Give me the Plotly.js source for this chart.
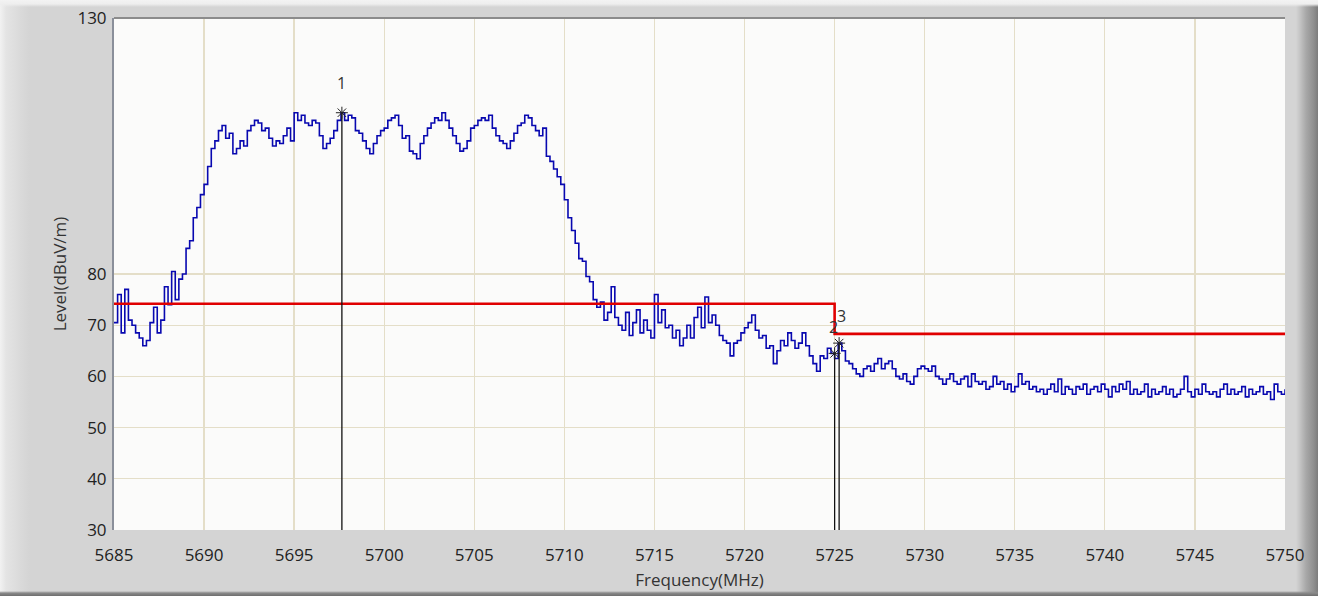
<!DOCTYPE html>
<html>
<head>
<meta charset="utf-8">
<script src="https://cdn.plot.ly/plotly-3.0.1.min.js"></script>
<style>
  html, body { margin: 0; padding: 0; background: #d4d4d4; }
  #chart {
    width: 1318px; height: 596px;
    background:
      linear-gradient(to bottom, #f3f3f3 0px, #eeeeee 4px, rgba(212,212,212,0) 7px),
      linear-gradient(to top, #6e6e6e 0px, #8a8a8a 3px, rgba(212,212,212,0) 5px),
      linear-gradient(to right, #f2f2f2 0px, #e4e4e4 6px, #dadada 20px, #d4d4d4 30px, #d4d4d4 1296px, #c4c4c4 1300px, #a8a8a8 1306px, #8e8e8e 1314px, #7c7c7c 1318px);
  }
</style>
</head>
<body>
<div id="chart"></div>
<script>
// Sweep: 5685 MHz to 5750 MHz, one reading every 0.2 MHz
const freqStart = 5685;
const freqStep = 0.2;
const levels = [
  70.5, 76.0, 68.5, 77.0, 71.0,
  70.0, 68.5, 67.5, 66.0, 67.0,
  70.5, 73.5, 68.5, 71.0, 77.5,
  74.0, 80.5, 75.0, 79.0, 80.0,
  85.0, 86.5, 91.0, 93.0, 95.5,
  97.5, 101.0, 104.5, 106.0, 108.0,
  109.0, 106.5, 107.5, 103.5, 104.5,
  106.0, 105.0, 108.0, 109.0, 110.0,
  109.5, 108.0, 108.5, 106.5, 105.0,
  106.0, 105.5, 107.0, 108.5, 106.0,
  111.5, 110.0, 111.0, 109.5, 109.0,
  110.0, 109.5, 107.0, 104.5, 105.5,
  106.5, 108.0, 110.0, 111.5, 110.0,
  111.0, 110.5, 108.0, 107.5, 106.0,
  104.5, 103.5, 105.5, 107.0, 108.0,
  108.5, 110.0, 110.5, 111.0, 109.0,
  106.5, 107.0, 104.0, 103.5, 102.5,
  105.5, 107.0, 108.5, 109.5, 110.5,
  110.0, 111.5, 110.0, 108.5, 107.0,
  105.5, 104.0, 104.5, 106.0, 108.5,
  109.0, 110.0, 110.5, 110.0, 111.0,
  108.5, 107.0, 106.0, 105.5, 104.5,
  106.0, 107.5, 109.0, 109.5, 111.0,
  110.5, 109.0, 108.0, 107.0, 108.5,
  103.0, 102.0, 100.5, 99.0, 97.5,
  94.5, 91.0, 88.5, 86.0, 83.0,
  82.5, 79.5, 78.5, 75.0, 73.5,
  74.5, 71.0, 72.5, 77.5, 71.5,
  70.0, 69.0, 72.5, 68.0, 70.5,
  73.0, 68.5, 71.0, 69.0, 67.5,
  76.0, 70.5, 73.0, 69.5, 70.0,
  67.5, 69.0, 66.0, 67.5, 70.0,
  67.5, 71.5, 73.5, 69.5, 75.5,
  70.5, 72.0, 70.0, 68.0, 67.0,
  66.5, 64.0, 66.5, 67.0, 68.5,
  69.5, 70.5, 72.0, 69.0, 67.5,
  68.0, 65.5, 66.0, 62.5, 65.0,
  67.0, 66.0, 68.5, 67.0, 65.5,
  66.5, 68.5, 66.0, 64.0, 62.5,
  61.0, 64.0, 63.5, 65.5, 64.5,
  63.5, 66.5, 65.0, 63.0, 62.5,
  61.5, 60.5, 60.0, 61.5, 62.0,
  61.0, 62.5, 63.5, 61.5, 62.5,
  63.0, 61.5, 60.0, 59.5, 60.5,
  59.0, 58.5, 60.0, 61.5, 62.0,
  61.5, 61.0, 62.0, 60.0, 59.5,
  58.5, 59.5, 60.5, 59.0, 58.5,
  59.5, 60.0, 58.0, 60.5, 59.0,
  58.5, 59.0, 57.5, 58.0, 60.0,
  58.5, 59.0, 57.5, 58.5, 57.0,
  58.0, 60.5, 58.5, 59.0, 57.5,
  58.0, 57.0, 57.5, 56.5, 57.5,
  58.5, 57.0, 59.5, 56.5, 58.0,
  57.5, 56.5, 58.0, 57.5, 58.5,
  56.5, 57.5, 58.0, 57.0, 58.5,
  57.5, 56.0, 58.0, 57.0, 58.5,
  57.5, 59.0, 56.5, 57.5, 56.5,
  57.0, 58.5, 56.0, 57.5, 56.5,
  57.0, 58.0, 56.5, 57.5, 56.0,
  56.5, 57.5, 60.0, 57.0, 56.0,
  57.5, 56.5, 58.5, 57.0, 56.5,
  57.0, 56.0, 57.5, 58.5, 56.5,
  57.5, 56.5, 57.0, 58.0, 56.0,
  57.5, 56.5, 57.0, 58.0, 56.5,
  57.0, 55.5, 58.5, 57.0, 56.5,
  57.5
];

// Limit line
const limitFreq = [5685, 5725, 5725, 5750];
const limitLevel = [74.2, 74.2, 68.3, 68.3];

// Markers
const markerNames = ['1', '2', '3'];
const markerFreq = [5697.65, 5725.0, 5725.25];
const markerLevel = [111.5, 64.5, 66.5];

// Axis ticks
const xTicks = [5685, 5690, 5695, 5700, 5705, 5710, 5715, 5720, 5725, 5730, 5735, 5740, 5745, 5750];
const yTicks = [30, 40, 50, 60, 70, 80, 130];

const yMin = 30, yMax = 130;

// marker drop lines built from marker arrays
const dropX = [], dropY = [];
markerFreq.forEach((f, i) => { dropX.push(f, f, null); dropY.push(markerLevel[i], yMin, null); });

const traces = [
  {
    type: 'scatter', mode: 'lines',
    x0: freqStart, dx: freqStep, y: levels,
    line: { color: '#0808b0', width: 1.6, shape: 'hv' },
    hoverinfo: 'x+y', showlegend: false
  },
  {
    type: 'scatter', mode: 'lines',
    x: limitFreq, y: limitLevel,
    line: { color: '#e00000', width: 2.6 },
    showlegend: false
  },
  {
    type: 'scatter', mode: 'lines',
    x: dropX, y: dropY,
    line: { color: '#111111', width: 1.3 },
    showlegend: false
  },
  {
    type: 'scatter', mode: 'markers',
    x: markerFreq, y: markerLevel,
    marker: { symbol: 'asterisk-open', size: 10, color: '#222222', line: { color: '#222222', width: 1 } },
    showlegend: false
  }
];

const labelShift = [[0, 30], [-1, 26], [2, 27]];
const annotations = markerNames.map((n, i) => ({
  x: markerFreq[i], y: markerLevel[i], xref: 'x', yref: 'y',
  text: n, showarrow: false,
  xshift: labelShift[i][0], yshift: labelShift[i][1],
  font: { family: 'Open Sans, sans-serif', size: 16, color: '#333333' }
}));

const layout = {
  width: 1318, height: 596,
  margin: { l: 114, r: 33, t: 18, b: 66 },
  paper_bgcolor: 'rgba(0,0,0,0)',
  plot_bgcolor: '#fbfbfa',
  font: { family: 'Open Sans, sans-serif', color: '#222222' },
  xaxis: {
    range: [freqStart, 5750],
    tickvals: xTicks, ticktext: xTicks.map(String),
    showgrid: true, gridcolor: '#e4dec8', gridwidth: 1.3,
    zeroline: false, showline: false,
    ticks: '', ticklabelstandoff: 13,
    tickfont: { family: 'Open Sans, sans-serif', size: 17, color: '#222222' },
    title: { text: 'Frequency(MHz)', standoff: 9, font: { family: 'Open Sans, sans-serif', size: 17, color: '#333333' } }
  },
  yaxis: {
    range: [yMin, yMax],
    tickvals: yTicks, ticktext: yTicks.map(String),
    showgrid: true, gridcolor: '#e4dec8', gridwidth: 1.3,
    zeroline: false, showline: true, linecolor: '#8a8f9a', linewidth: 2,
    ticks: '', ticklabelstandoff: 2,
    tickfont: { family: 'Open Sans, sans-serif', size: 17, color: '#222222' },
    title: { text: 'Level(dBuV/m)', standoff: 6, font: { family: 'Open Sans, sans-serif', size: 17, color: '#333333' } }
  },
  shapes: [
    { type: 'line', xref: 'paper', yref: 'paper', x0: 0, x1: 1, y0: 1, y1: 1, line: { color: '#8c8c8c', width: 2 } }
  ],
  annotations: annotations
};

Plotly.newPlot('chart', traces, layout, { displayModeBar: false, staticPlot: true });
</script>
</body>
</html>
